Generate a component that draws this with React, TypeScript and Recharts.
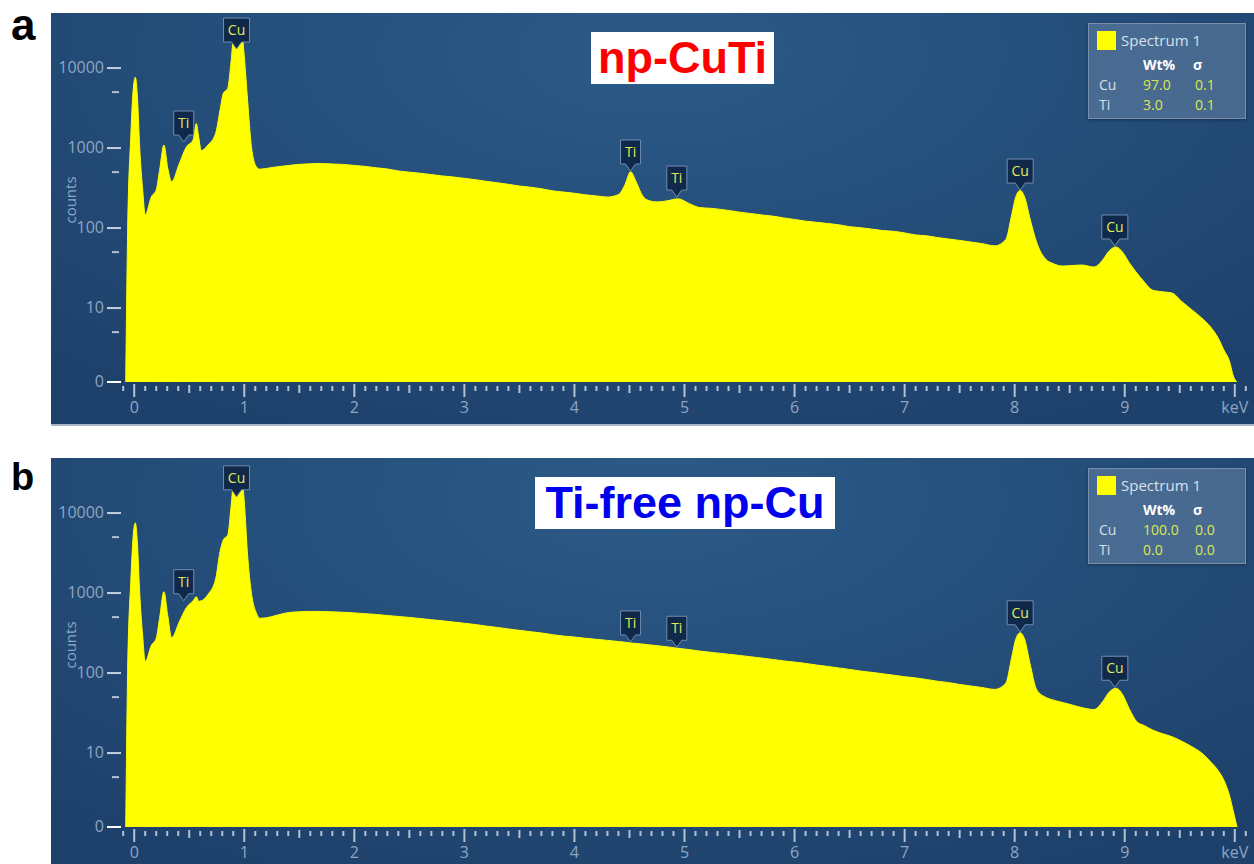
import React from 'react';
import { AreaChart, Area, XAxis, YAxis, ReferenceDot } from 'recharts';

// energy grid (keV) shared by both spectra
const energies = [
  -0.077, -0.06, -0.03, -0.01, 0.01, 0.03, 0.05, 0.077, 0.1, 0.156,
  0.2, 0.23, 0.27, 0.305, 0.34, 0.41, 0.475, 0.535, 0.565, 0.585,
  0.61, 0.67, 0.74, 0.78, 0.81, 0.85, 0.88, 0.905, 0.94, 0.98,
  1.0, 1.03, 1.065, 1.11, 1.14, 1.2, 1.3, 1.4, 1.5, 1.6,
  1.7, 1.8, 1.9, 2.0, 2.1, 2.2, 2.3, 2.4, 2.5, 2.6,
  2.7, 2.8, 2.9, 3.0, 3.1, 3.2, 3.3, 3.4, 3.5, 3.6,
  3.7, 3.8, 3.9, 4.0, 4.1, 4.2, 4.3, 4.4, 4.46, 4.51,
  4.56, 4.62, 4.67, 4.75, 4.85, 4.94, 5.05, 5.14, 5.25, 5.4,
  5.5, 5.6, 5.7, 5.8, 5.9, 6.0, 6.1, 6.2, 6.3, 6.4,
  6.5, 6.6, 6.7, 6.8, 6.9, 7.0, 7.1, 7.2, 7.3, 7.4,
  7.5, 7.6, 7.7, 7.82, 7.92, 7.97, 8.01, 8.05, 8.09, 8.14,
  8.2, 8.28, 8.35, 8.43, 8.52, 8.61, 8.72, 8.8, 8.86, 8.92,
  8.98, 9.04, 9.11, 9.18, 9.25, 9.34, 9.43, 9.52, 9.61, 9.7,
  9.78, 9.85, 9.9, 9.95, 9.99, 10.02,
];

// counts, np-CuTi
const countsCuTi = [
  0, 86, 1500, 5200, 7660, 4200, 1000, 300, 146, 246,
  300, 520, 1090, 560, 380, 640, 1040, 1260, 2030, 1400,
  927, 1090, 1530, 2990, 4840, 5570, 12000, 26000, 30000, 26000,
  14000, 3990, 1040, 583, 544, 556, 583, 605, 625, 636,
  641, 632, 624, 606, 590, 566, 548, 518, 500, 484,
  466, 448, 435, 418, 402, 384, 368, 352, 335, 324,
  310, 292, 282, 272, 260, 252, 244, 262, 350, 505,
  380, 252, 222, 212, 220, 232, 200, 180, 176, 166,
  158, 152, 146, 141, 134, 128, 122, 118, 114, 110,
  104, 101, 97, 93, 91, 87, 82, 80, 76, 73,
  70, 67, 64, 60, 72, 140, 245, 295, 245, 130,
  66, 41, 36, 33.5, 34, 34.5, 32.6, 40, 52, 58,
  50, 37, 27.4, 21, 16.8, 16, 15.4, 12, 9.5, 7.5,
  5.8, 4.2, 3.0, 2.2, 1.37, 0,
];

// counts, Ti-free np-Cu
const countsCu = [
  0, 100, 1500, 5000, 7540, 4000, 1000, 290, 139, 222,
  272, 480, 1040, 520, 276, 438, 660, 800, 900, 790,
  800, 960, 1500, 3300, 4630, 5300, 12000, 26000, 30000, 26000,
  14000, 3000, 1000, 560, 484, 490, 530, 570, 583, 590,
  588, 582, 575, 565, 552, 540, 524, 510, 496, 480,
  464, 450, 434, 419, 404, 386, 372, 356, 342, 329,
  317, 302, 290, 282, 272, 264, 256, 248, 243, 238,
  234, 230, 226, 220, 212, 204, 196, 188, 181, 172,
  166, 160, 154, 148, 142, 137, 132, 126, 121, 116,
  111, 106, 102, 98, 94, 90, 87, 83, 79, 76,
  72, 69, 66, 62.5, 75, 150, 265, 319, 265, 130,
  62, 50, 46, 43, 40, 37, 35, 44, 58, 64.5,
  54, 36, 24.6, 22, 19.5, 17.5, 16, 14, 12, 10,
  7.8, 6, 4.6, 3, 1.78, 0,
];

// peak markers
const peakElements = ['Ti', 'Cu', 'Ti', 'Ti', 'Cu', 'Cu'];
const peakEnergies = [0.45, 0.93, 4.51, 4.93, 8.05, 8.91];
const peakCountsCuTi = [1156, 16800, 502, 237, 290, 58];
const peakCountsCu = [780, 15500, 238, 204, 319, 64.5];

// quantification tables
const quantElements = ['Cu', 'Ti'];
const wtCuTi = ['97.0', '3.0'];
const sigmaCuTi = ['0.1', '0.1'];
const wtCu = ['100.0', '0.0'];
const sigmaCu = ['0.0', '0.0'];

// axes
const xTickLabels = ['0', '1', '2', '3', '4', '5', '6', '7', '8', '9', 'keV'];
const yTickCounts = [1.19, 5, 10, 50, 100, 500, 1000, 5000, 10000];
const yTickLabels = ['0', '', '10', '', '100', '', '1000', '', '10000'];

const ZERO_LEVEL = 1.19;
const toLog = (c: number) => Math.log10(Math.max(c, ZERO_LEVEL));
const Y_MIN = toLog(ZERO_LEVEL);
const Y_MAX = Y_MIN + 369 / 80;

const xTicks: number[] = [];
for (let i = -1; i <= 101; i++) xTicks.push(i / 10);
const yTicks = yTickCounts.map(toLog);

const AXIS_FONT = '"Open Sans", "Noto Sans", sans-serif';

const XTick = (props: any) => {
  const { x, y, payload } = props;
  const v = Math.round(payload.value * 10);
  const major = v % 10 === 0;
  const mid = !major && v % 5 === 0;
  const y1 = major ? y + 2 : mid ? y + 3 : y + 4;
  const y2 = major ? y + 15 : mid ? y + 11 : y + 9;
  const label = major && v >= 0 && v <= 100 ? xTickLabels[v / 10] : null;
  return (
    <g>
      <line x1={x} x2={x} y1={y1} y2={y2} stroke="#b3c2d4" strokeWidth={2} />
      {label && (
        <text x={x} y={y + 31} textAnchor="middle" fill="#8ea6c3" fontSize={16} fontFamily={AXIS_FONT}>
          {label}
        </text>
      )}
    </g>
  );
};

const YTick = (props: any) => {
  const { x, y, payload } = props;
  const idx = yTicks.findIndex((t) => Math.abs(t - payload.value) < 1e-6);
  const label = idx >= 0 ? yTickLabels[idx] : '';
  if (!label) {
    return <line x1={x - 9} x2={x - 2} y1={y} y2={y} stroke="#b3c2d4" strokeWidth={2} />;
  }
  return (
    <g>
      <line x1={x - 14} x2={x} y1={y} y2={y} stroke={label === '0' ? '#ffffff' : '#c4d0de'} strokeWidth={2} />
      <text x={x - 17} y={y + 5} textAnchor="end" fill="#8ea6c3" fontSize={16} fontFamily={AXIS_FONT}>
        {label}
      </text>
    </g>
  );
};

const PeakTag = (props: any) => {
  const { cx, cy, tag } = props;
  const w = tag === 'Cu' ? 26 : 20;
  const h = 24;
  const tip = cy - 1;
  const bottom = tip - 7;
  const top = bottom - h;
  const d = `M${cx - w / 2},${top} H${cx + w / 2} V${bottom} H${cx + 5} L${cx},${tip} L${cx - 5},${bottom} H${cx - w / 2} Z`;
  return (
    <g>
      <path d={d} fill="#10294a" stroke="#6f8db0" strokeWidth={1} />
      <text x={cx} y={top + h / 2 + 5} textAnchor="middle" fontSize={14} fill="#e0ec5c" fontFamily={AXIS_FONT}>
        {tag}
      </text>
    </g>
  );
};

type PanelProps = {
  top: number;
  letter: string;
  letterSize: number;
  letterTop: number;
  title: string;
  titleColor: string;
  titleLeft: number;
  titleWidth: number;
  counts: number[];
  peakCounts: number[];
  wt: string[];
  sigma: string[];
};

const Panel = ({
  top, letter, letterSize, letterTop, title, titleColor, titleLeft, titleWidth, counts, peakCounts, wt, sigma,
}: PanelProps) => {
  const data = energies.map((e, i) => ({ kev: e, y: toLog(counts[i]) }));
  return (
    <>
      <div
        style={{
          position: 'absolute',
          left: 11,
          top: letterTop,
          fontFamily: 'Arial, "Liberation Sans", sans-serif',
          fontWeight: 'bold',
          fontSize: letterSize,
          lineHeight: `${letterSize}px`,
          color: '#000',
        }}
      >
        {letter}
      </div>
      <div
        style={{
          position: 'absolute',
          left: 51,
          top,
          width: 1203,
          height: 413,
          boxSizing: 'border-box',
          borderBottom: '2px solid #a9b7c8',
          background: 'radial-gradient(ellipse 75% 100% at 50% 10%, #2c5a88 0%, #254f7b 45%, #1e416b 100%)',
          overflow: 'hidden',
        }}
      >
        <AreaChart width={1203} height={411} data={data} margin={{ top: 0, right: 6, bottom: 0, left: 20 }}>
          <XAxis
            dataKey="kev"
            type="number"
            domain={[-0.12, 10.12]}
            ticks={xTicks}
            interval={0}
            tick={<XTick />}
            tickSize={0}
            tickMargin={0}
            axisLine={false}
            tickLine={false}
            height={42}
            allowDataOverflow
          />
          <YAxis
            type="number"
            domain={[Y_MIN, Y_MAX]}
            ticks={yTicks}
            interval={0}
            tick={<YTick />}
            tickSize={0}
            tickMargin={0}
            axisLine={false}
            tickLine={false}
            width={50}
            allowDataOverflow
          />
          <Area
            dataKey="y"
            type="monotone"
            stroke="#ffff00"
            strokeWidth={1}
            fill="#ffff00"
            fillOpacity={1}
            baseValue={Y_MIN}
            isAnimationActive={false}
          />
          {peakElements.map((el, i) => (
            <ReferenceDot
              key={i}
              x={peakEnergies[i]}
              y={toLog(peakCounts[i])}
              ifOverflow="visible"
              shape={(p: any) => <PeakTag {...p} tag={el} />}
            />
          ))}
        </AreaChart>
        <div
          style={{
            position: 'absolute',
            left: 19,
            top: 187,
            transform: 'translate(-50%, -50%) rotate(-90deg)',
            color: '#8ea6c3',
            fontSize: 15,
            fontFamily: AXIS_FONT,
          }}
        >
          counts
        </div>
        <div
          style={{
            position: 'absolute',
            left: titleLeft - 51,
            top: 19,
            width: titleWidth,
            height: 52,
            background: '#ffffff',
            color: titleColor,
            fontFamily: 'Arial, "Liberation Sans", sans-serif',
            fontWeight: 'bold',
            fontSize: 45,
            lineHeight: '52px',
            textAlign: 'center',
          }}
        >
          {title}
        </div>
        <div
          style={{
            position: 'absolute',
            left: 1037,
            top: 10,
            width: 158,
            height: 96,
            boxSizing: 'border-box',
            background: 'rgba(120,145,175,0.45)',
            border: '1px solid #7890ad',
            boxShadow: '0 1px 3px rgba(0,0,0,0.35)',
            fontFamily: AXIS_FONT,
            fontSize: 14,
            color: '#d6e0eb',
          }}
        >
          <div style={{ position: 'absolute', left: 8, top: 7, width: 19, height: 19, background: '#ffff00' }} />
          <div style={{ position: 'absolute', left: 32, top: 6, fontSize: 15 }}>Spectrum 1</div>
          <div style={{ position: 'absolute', left: 54, top: 31, fontWeight: 'bold', color: '#ffffff' }}>Wt%</div>
          <div style={{ position: 'absolute', left: 104, top: 31, fontWeight: 'bold', color: '#ffffff' }}>σ</div>
          {quantElements.map((el, i) => (
            <React.Fragment key={el}>
              <div style={{ position: 'absolute', left: 10, top: 51 + i * 20 }}>{el}</div>
              <div style={{ position: 'absolute', left: 54, top: 51 + i * 20, color: '#dbe84e' }}>{wt[i]}</div>
              <div style={{ position: 'absolute', left: 106, top: 51 + i * 20, color: '#dbe84e' }}>{sigma[i]}</div>
            </React.Fragment>
          ))}
        </div>
      </div>
    </>
  );
};

export default function App() {
  return (
    <div
      style={{
        position: 'absolute',
        left: 0,
        top: 0,
        width: 1254,
        height: 864,
        overflow: 'hidden',
        background: '#ffffff',
      }}
    >
      <Panel
        top={13}
        letter="a"
        letterSize={44}
        letterTop={3}
        title="np-CuTi"
        titleColor="#ff0000"
        titleLeft={591}
        titleWidth={183}
        counts={countsCuTi}
        peakCounts={peakCountsCuTi}
        wt={wtCuTi}
        sigma={sigmaCuTi}
      />
      <Panel
        top={458}
        letter="b"
        letterSize={38}
        letterTop={458}
        title="Ti-free np-Cu"
        titleColor="#0000ee"
        titleLeft={535}
        titleWidth={300}
        counts={countsCu}
        peakCounts={peakCountsCu}
        wt={wtCu}
        sigma={sigmaCu}
      />
    </div>
  );
}
